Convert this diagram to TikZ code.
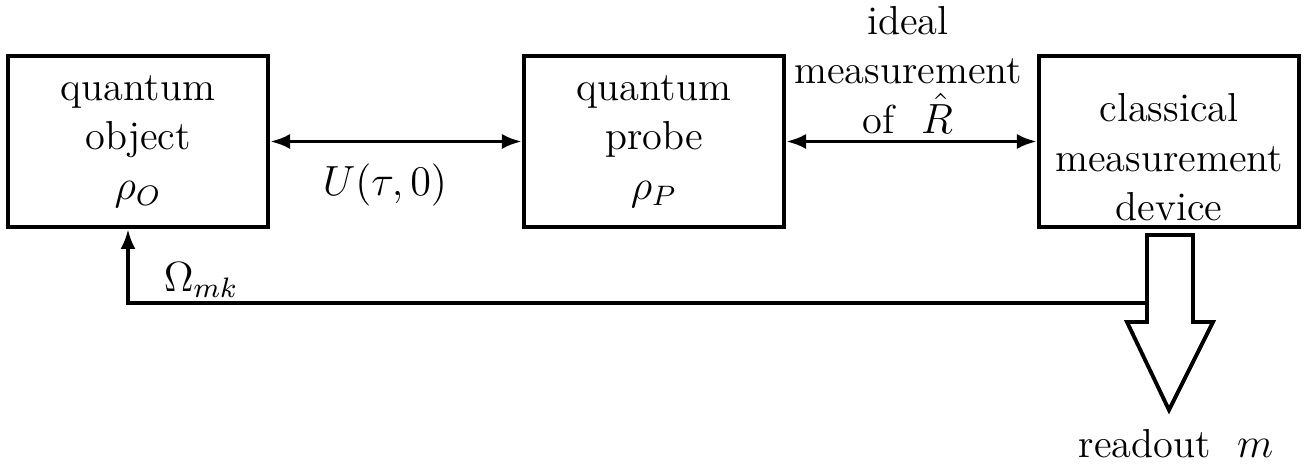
\documentclass[tikz,border=0pt]{standalone}
\usetikzlibrary{arrows.meta}

\newcommand*{\blockw}{2.6cm}
\newcommand*{\blockh}{1.71cm}

\begin{document}
\begin{tikzpicture}
[
	x=0.01cm, y=-0.01cm,
	font=\fontsize{11.5}{14}\selectfont,
	block/.style={draw,line width=1.1pt,minimum width=\blockw,minimum height=\blockh,inner sep=0pt,align=center},
	twoway/.style={line width=1.1pt,{Latex[length=2mm,width=1.5mm]}-{Latex[length=2mm,width=1.5mm]}},
	oneway/.style={line width=1.1pt,-{Latex[length=2mm,width=1.5mm]}}
]
	\useasboundingbox (0,0) rectangle (1308,470);

	% blocks
	\node[block] at (138,141.5) (obj) {quantum\\object\\$\rho_O$};
	\node[block] at (654,141.5) (probe) {quantum\\probe\\$\rho_P$};
	\node[block] at (1169,141.5) (dev) {\rule{0pt}{17pt}classical\\measurement\\device};

	% couplings
	\draw[twoway] (obj) -- (probe);
	\draw[twoway] (probe) -- (dev);
	\node at (385,185) (ulabel) {$U(\tau,0)$};
	\node[align=center,anchor=north,inner sep=0pt] at (908,6) (rlabel) {ideal\\measurement\\of\ \ $\hat{R}$};

	% readout
	\draw[line width=1.1pt] (1147,235) -- (1193,235) -- (1193,322) -- (1213,322) -- (1169,410) -- (1127,322) -- (1147,322) -- cycle;
	\coordinate (tap) at (1147,303);
	\node[anchor=base] at (1176,458) (readout) {readout\ \ $m$};

	% feedback
	\coordinate (corner) at (128,303);
	\draw[oneway] (tap) -- (corner) -- (corner |- obj.south);
	\node at (201,280) (omega) {$\Omega_{mk}$};

\end{tikzpicture}
\end{document}
